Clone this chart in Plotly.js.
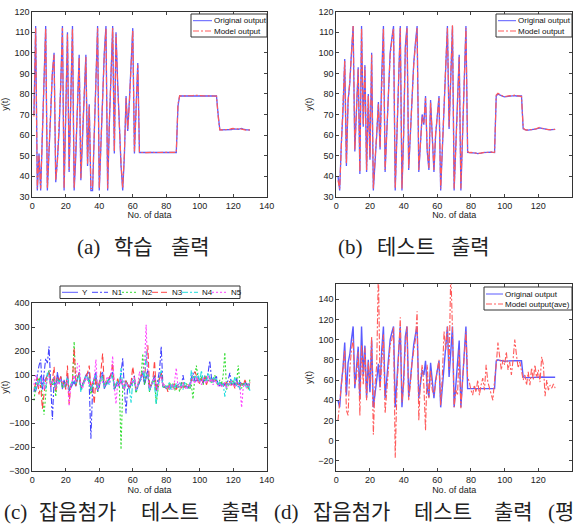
<!DOCTYPE html>
<html>
<head>
<meta charset="utf-8">
<script src="https://cdn.plot.ly/plotly-3.0.1.min.js"></script>
<style>html,body{margin:0;padding:0;background:#fff;}#chart{width:577px;height:532px;}</style>
</head>
<body>
<div id="chart"></div>
<script>
// ---------- data ----------
const trainY = [
70,113,33,51,33,60,92,113,33,55,
75,90,100,37,48,62,85,113,33,70,
110,42,85,113,33,50,75,99,38,60,
80,99,45,75,33,33,60,90,113,33,
55,80,100,113,33,65,92,113,51,110,
85,62,45,33,50,79,62,77,95,112,
51,70,95,51.5,51.5,51.5,51.5,51.5,51.5,51.5,
51.5,51.5,51.5,51.5,51.5,51.5,51.5,51.5,51.5,51.5,
51.5,51.5,51.5,51.5,51.5,51.5,74,79,79,79,
79,79,79,79.1,79.2,79.2,79.3,79.2,79.1,79,
79,79,79,79,79,79.1,79,79,79,79,
70,62.5,62.5,62.5,62.5,62.5,62.5,62.6,62.7,63,
63.1,62.9,62.8,63,63.2,62.9,62.6,62.5,62.5,62.4];
const trainModel = [
69,112,34,50,34,61,91,112,34,56,
74,91,99,38,47,63,84,112,34,71,
109,43,84,112,34,51,74,98,39,61,
79,98,46,74,34,34,61,89,112,34,
56,79,99,112,34,66,91,112,52,109,
84,63,46,34,51,78,63,76,94,111,
52,71,94,51.5,51.6,51.5,51.5,51.4,51.5,51.5,
51.5,51.6,51.5,51.5,51.5,51.4,51.5,51.5,51.6,51.5,
51.5,51.5,51.4,51.5,51.5,51.6,75,79.1,79,79,
79,79,79.1,79.2,79.3,79.2,79.4,79.3,79.1,79,
79,79,79,79,79.1,79.2,79.1,79,79,79,
69,62.5,62.5,62.5,62.6,62.5,62.7,62.8,63.1,63.2,
62.9,62.8,63.1,63.3,62.9,62.6,62.5,62.4,62.4,62.5];
const testY = [
40,33,56,72,97,45,77,85,100,113,
52,70,93,41,113,64,94,42,80,48,
100,33,45,60,76,53,90,113,42,60,
75,100,107,113,33,62,90,113,33,60,
103,113,43,60,79,95,105,113,42,55,
70,65,79,52,43,77,55,42,60,70,
79,33,55,75,95,113,63,90,113,33,
53,75,99,33,60,88,113,51.5,51.5,51.5,
51.4,51.3,51.2,51.0,51.0,51.2,51.4,51.5,51.5,51.6,
51.6,51.7,51.6,51.5,79,80,79.5,79,78.8,78.6,
78.7,78.9,79,79,79.1,79.2,79,79,79,79,
63,62.5,62.4,62.4,62.5,62.5,62.6,62.6,63,63.3,
63.5,63.2,63,62.8,62.7,62.5,62.5,62.6,62.7,62.8];
const testModel = [
38,34,55,73,96,46,76,86,99,113,
53,69,92,42,112,65,93,43,79,49,
99,34,46,61,75,54,89,112,43,61,
74,99,106,112,34,61,89,112,34,61,
102,112,44,61,78,94,104,112,43,56,
69,66,78,53,44,76,56,43,61,69,
78,34,56,74,94,112,64,89,113.5,34,
52,74,98,34,61,87,112,52,51.5,51.6,
51.4,51.2,51.1,51.0,51.1,51.3,51.5,51.6,51.5,51.7,
51.6,51.8,51.5,51.6,79.5,80.3,79.8,79.2,78.9,78.7,
78.9,79.1,79.2,79.0,79.3,79.4,79.2,79.0,78.9,78.8,
63.5,62.6,62.4,62.5,62.7,62.5,62.6,62.8,63.2,63.6,
63.8,63.4,63.1,62.9,62.7,62.6,62.5,62.6,62.7,62.8];
const N1 = [
30,60,100,140,165,40,120,170,150,220,
60,-85,80,40,100,70,85,55,75,60,
90,40,55,70,60,75,80,95,50,65,
70,85,100,60,-165,40,75,95,30,50,
90,100,55,70,60,85,95,110,40,60,
75,50,100,170,45,-60,60,50,70,90,
95,30,50,70,90,110,60,100,120,40,
60,70,95,45,80,120,220,60,50,45,
60,40,55,65,50,45,60,70,50,100,
60,55,45,60,90,110,80,70,95,75,
85,65,100,80,110,160,90,70,85,95,
60,55,70,50,65,60,80,110,55,75,
60,90,50,70,65,55,75,60,50,65];
const N2 = [
-5,50,70,90,60,20,-65,40,100,120,
70,60,90,10,80,70,90,45,70,50,
85,40,55,80,240,60,90,100,35,55,
70,90,80,95,20,55,85,95,30,60,
80,95,50,65,75,85,95,100,45,55,
80,60,-210,50,40,75,60,40,65,70,
80,25,55,80,100,190,60,95,110,30,
60,70,90,-20,50,90,100,55,45,60,
40,70,50,65,35,55,60,30,70,50,
45,65,55,40,60,0,90,140,85,70,
95,60,80,100,75,90,65,80,100,70,
55,80,60,100,195,40,55,75,60,80,
55,70,140,60,45,70,55,65,40,85];
const N3 = [
40,70,90,20,60,-40,30,80,100,110,
50,80,135,30,90,75,95,60,70,40,
140,-20,60,75,215,55,85,110,40,60,
80,95,110,140,45,70,-20,90,50,70,
120,190,60,75,80,90,100,150,55,60,
85,60,90,60,50,80,60,50,70,135,
85,40,60,80,100,120,90,150,225,50,
60,80,160,40,65,95,110,60,50,55,
30,60,45,50,65,40,55,60,45,70,
50,55,60,50,80,90,115,100,75,65,
85,70,95,60,80,90,70,85,75,80,
60,70,55,65,50,70,60,75,55,65,
45,70,60,50,65,55,80,60,45,70];
const N4 = [
50,40,80,60,90,50,70,40,110,95,
65,75,60,50,85,70,80,60,50,75,
90,45,60,70,90,65,80,100,30,55,
75,95,85,70,40,60,80,100,45,65,
85,95,50,70,80,60,90,105,40,65,
75,60,130,55,45,70,50,40,-15,75,
80,35,60,70,95,120,80,200,100,35,
55,80,60,-20,55,85,120,50,60,45,
55,70,40,60,50,65,45,55,60,40,
70,55,50,45,120,75,100,85,110,70,
120,80,95,75,110,85,70,90,75,85,
60,75,55,65,10,60,70,55,80,60,
95,55,70,40,60,55,65,45,60,35];
const N5 = [
60,100,80,55,70,90,40,60,85,100,
55,70,90,45,75,60,85,70,55,65,
80,-30,60,80,100,70,150,140,60,45,
70,90,80,60,55,75,90,165,40,60,
85,70,55,80,95,65,100,180,50,-20,
70,55,85,60,40,70,55,45,75,65,
90,40,60,115,80,100,140,310,90,45,
60,75,90,50,40,75,95,55,60,50,
45,55,60,40,75,130,50,55,45,65,
50,40,60,55,70,85,65,95,70,80,
60,90,75,65,100,70,85,60,80,70,
55,65,50,60,70,45,65,55,75,60,
50,70,60,55,-35,50,65,45,60,55];
const testAve = [
20,38,58,75,90,30,25,70,90,100,
55,62,88,25,95,55,92,40,78,55,
103,6,55,75,170,50,82,105,27,55,
72,95,100,112,-17,50,85,122,38,55,
95,113,40,55,78,92,100,128,20,60,
75,55,10,75,42,70,50,45,60,70,
80,35,65,108,90,113,70,170,110,33,
50,45,90,32,60,85,108,63,58,50,
45,55,48,60,45,55,62,50,75,58,
52,45,40,60,75,97,85,70,80,75,
88,70,78,65,80,100,85,72,78,70,
60,65,55,68,55,72,60,75,62,70,
58,83,75,44,60,50,55,52,56,52];
const idx = trainY.map((_, i) => i + 1);

const captionTop = [['(a)', '학습', '출력'], ['(b)', '테스트', '출력']];
const captionBottom = ['(c)', '잡음첨가', '테스트', '출력', '(d)', '잡음첨가', '테스트', '출력', '(평'];
const noiseNames = ['Y', 'N1', 'N2', 'N3', 'N4', 'N5'];

// ---------- styling ----------
const W = 577, H = 532;
const px = x => x / W, py = y => 1 - y / H;
const BLUE = '#5a5aff', RED = '#ff5a5a';
const styles = {
  Y:  {color: BLUE, dash: 'solid'},
  N1: {color: '#4444ff', dash: '6px,2px,2px,2px'},
  N2: {color: '#33dd33', dash: '2px,2px'},
  N3: {color: '#ff4444', dash: '6px,3px'},
  N4: {color: '#22dddd', dash: '6px,2px,2px,2px'},
  N5: {color: '#ff44ff', dash: '2px,2px'}
};
const modelDash = '6px,2px,2px,2px';
const tickFont = {family: 'Liberation Sans, Arial, sans-serif', size: 9, color: '#222'};

function line(y, xa, ya, color, dash, width) {
  return {x: idx, y: y, xaxis: xa, yaxis: ya, type: 'scatter', mode: 'lines',
          line: {color: color, dash: dash, width: width || 1.1}, showlegend: false, hoverinfo: 'skip'};
}
const data = [
  line(trainY, 'x', 'y', BLUE, 'solid', 1.3),
  line(trainModel, 'x', 'y', RED, modelDash, 1.2),
  line(testY, 'x2', 'y2', BLUE, 'solid', 1.3),
  line(testModel, 'x2', 'y2', RED, modelDash, 1.2),
  line(testY, 'x3', 'y3', styles.Y.color, styles.Y.dash),
  line(N1, 'x3', 'y3', styles.N1.color, styles.N1.dash),
  line(N2, 'x3', 'y3', styles.N2.color, styles.N2.dash),
  line(N3, 'x3', 'y3', styles.N3.color, styles.N3.dash),
  line(N4, 'x3', 'y3', styles.N4.color, styles.N4.dash),
  line(N5, 'x3', 'y3', styles.N5.color, styles.N5.dash),
  line(testY, 'x4', 'y4', BLUE, 'solid', 1.4),
  line(testAve, 'x4', 'y4', RED, modelDash, 1.1)
];

function xax(dom, anchor) {
  return {domain: dom, anchor: anchor, range: [0, 140], dtick: 20, ticks: 'inside', ticklen: 3,
          showline: true, mirror: 'ticks', linecolor: '#333', linewidth: 1, showgrid: false, zeroline: false,
          tickfont: tickFont, title: {text: 'No. of data', font: tickFont, standoff: 2}};
}
function yax(dom, anchor, range, dtick) {
  return {domain: dom, anchor: anchor, range: range, dtick: dtick, ticks: 'inside', ticklen: 3,
          showline: true, mirror: 'ticks', linecolor: '#333', linewidth: 1, showgrid: false, zeroline: false,
          tickfont: tickFont, title: {text: 'y(t)', font: tickFont, standoff: 4}};
}
const dxL = [px(32.3), px(266.7)], dxR = [px(336.3), px(572)];
const layout = {
  width: W, height: H, margin: {l: 0, r: 0, t: 0, b: 0},
  paper_bgcolor: '#fff', plot_bgcolor: '#fff', showlegend: false,
  xaxis: xax(dxL, 'y'), yaxis: yax([py(196.7), py(11.7)], 'x', [30, 120], 10),
  xaxis2: xax(dxR, 'y2'), yaxis2: yax([py(196.7), py(11.7)], 'x2', [30, 120], 10),
  xaxis3: xax(dxL, 'y3'), yaxis3: yax([py(471), py(303.3)], 'x3', [-300, 400], 100),
  xaxis4: xax(dxR, 'y4'), yaxis4: yax([py(471), py(284)], 'x4', [-30, 155], 20),
  shapes: [], annotations: []
};

const legFont = {family: 'Liberation Sans, Arial, sans-serif', size: 8, color: '#111'};
function legendBox(x0, y0, x1, y1) {
  layout.shapes.push({type: 'rect', xref: 'paper', yref: 'paper', x0: px(x0), x1: px(x1), y0: py(y1), y1: py(y0),
                      line: {color: '#333', width: 1}, fillcolor: '#fff', layer: 'above'});
}
function legendItem(lx0, lx1, y, tx, color, dash, text) {
  layout.shapes.push({type: 'line', xref: 'paper', yref: 'paper', x0: px(lx0), x1: px(lx1), y0: py(y), y1: py(y),
                      line: {color: color, width: 1, dash: dash}, layer: 'above'});
  layout.annotations.push({xref: 'paper', yref: 'paper', x: px(tx), y: py(y), xanchor: 'left', yanchor: 'middle',
                           text: text, showarrow: false, font: legFont});
}
// (a)
legendBox(191, 14, 267, 37);
legendItem(193, 212, 20.7, 211.5, BLUE, 'solid', 'Original output');
legendItem(193, 212, 31, 211.5, RED, modelDash, 'Model output');
// (b)
legendBox(496, 14, 572, 37);
legendItem(498, 516, 20.7, 515.5, BLUE, 'solid', 'Original output');
legendItem(498, 516, 31, 515.5, RED, modelDash, 'Model output');
// (d)
legendBox(484, 287, 572, 310);
legendItem(486, 503, 294, 502.5, BLUE, 'solid', 'Original output');
legendItem(486, 503, 304, 502.5, RED, modelDash, 'Model output(ave)');
// (c)
legendBox(60, 286, 240, 298.5);
noiseNames.forEach((n, i) => {
  const x0 = 62 + i * 30;
  legendItem(x0, x0 + 16, 292.3, x0 + 17.5, styles[n].color, styles[n].dash, n);
});

// captions
const capFont = {family: 'Liberation Serif, Noto Sans CJK KR, serif', size: 21, color: '#222'};
function caption(t, x, y) {
  layout.annotations.push({xref: 'paper', yref: 'paper', x: px(x), y: py(y), xanchor: 'left', yanchor: 'middle',
                           text: t, showarrow: false, font: capFont});
}
const topX = [[75, 112, 169], [336, 375, 449]];
captionTop.forEach((parts, j) => parts.forEach((t, i) => caption(t, topX[j][i], 247)));
const bottomX = [2, 37, 139, 219, 272, 311, 412, 492, 546];
captionBottom.forEach((t, i) => caption(t, bottomX[i], 512));

Plotly.newPlot('chart', data, layout, {staticPlot: true, displayModeBar: false});
</script>
</body>
</html>
